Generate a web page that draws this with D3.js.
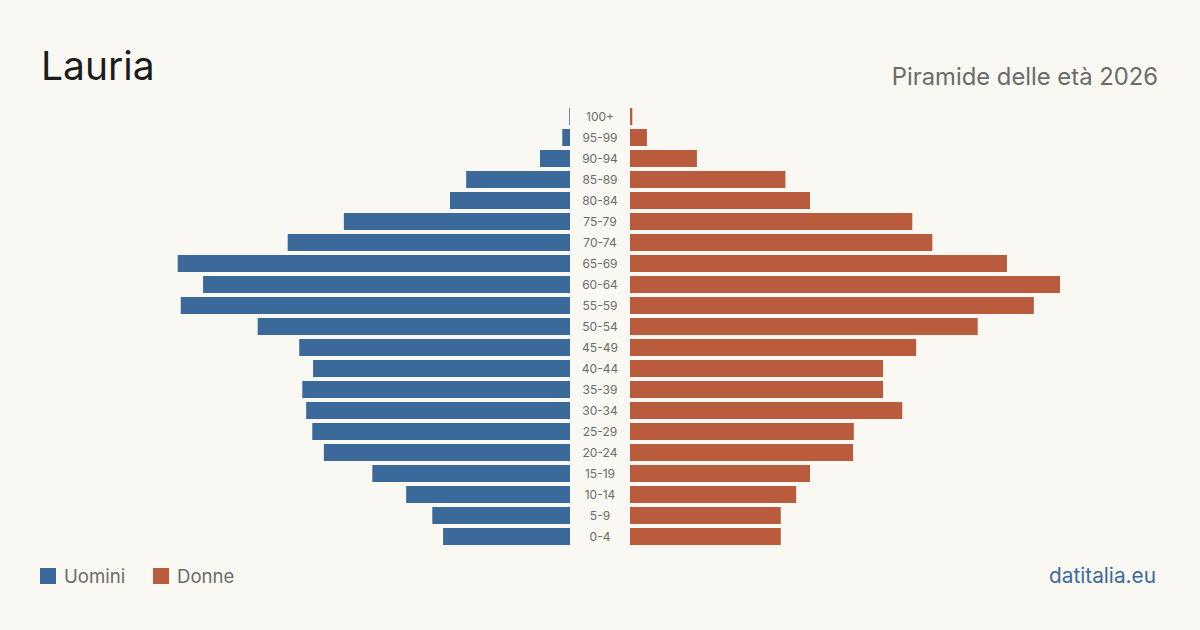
<!DOCTYPE html>
<html>
<head>
<meta charset="utf-8">
<script src="https://cdn.jsdelivr.net/npm/d3@7"></script>
<style>
  body { margin: 0; background: #f9f8f3; }
  svg { font-family: Inter, "Noto Sans", sans-serif; }
</style>
</head>
<body>
<script>
// age classes, top to bottom
var ages = ["100+","95-99","90-94","85-89","80-84","75-79","70-74","65-69","60-64","55-59",
            "50-54","45-49","40-44","35-39","30-34","25-29","20-24","15-19","10-14","5-9","0-4"];
// residents by sex
var uomini = [1, 10, 39, 135, 156, 294, 367, 510, 477, 506, 406, 352, 334, 348, 343, 335, 320, 257, 213, 179, 165];
var donne  = [3, 22, 87, 202, 234, 367, 393, 490, 559, 525, 452, 372, 329, 329, 354, 291, 290, 234, 216, 196, 196];

var W = 1200, H = 630;
var svg = d3.select("body").append("svg")
    .attr("width", W).attr("height", H);

svg.append("rect").attr("width", W).attr("height", H).attr("fill", "#f9f8f3");

svg.append("text")
    .attr("x", 41).attr("y", 80)
    .style("font-size", "39px")
    .attr("fill", "#1c1c1c")
    .text("Lauria");

svg.append("text")
    .attr("x", 1158).attr("y", 85)
    .attr("text-anchor", "end")
    .style("font-size", "23.8px")
    .attr("fill", "#6b6b6b")
    .text("Piramide delle età 2026");

var y = d3.scaleBand().domain(ages).range([106, 547]).paddingInner(4 / 21).paddingOuter(2 / 21);
var maxV = d3.max(uomini.concat(donne));
var xl = d3.scaleLinear().domain([0, maxV]).range([570, 140]);
var xr = d3.scaleLinear().domain([0, maxV]).range([630, 1060]);

var g = svg.append("g");

g.selectAll("rect.m").data(ages).enter().append("rect")
    .attr("class", "m")
    .attr("x", function (d, i) { return xl(uomini[i]); })
    .attr("y", function (d) { return y(d); })
    .attr("width", function (d, i) { return 570 - xl(uomini[i]); })
    .attr("height", y.bandwidth())
    .attr("fill", "#3b6a9a");

g.selectAll("rect.f").data(ages).enter().append("rect")
    .attr("class", "f")
    .attr("x", 630)
    .attr("y", function (d) { return y(d); })
    .attr("width", function (d, i) { return xr(donne[i]) - 630; })
    .attr("height", y.bandwidth())
    .attr("fill", "#b95c3d");

g.selectAll("text.age").data(ages).enter().append("text")
    .attr("class", "age")
    .attr("x", 600)
    .attr("y", function (d) { return y(d) + y.bandwidth() / 2; })
    .attr("dy", "0.35em")
    .attr("text-anchor", "middle")
    .style("font-size", "12px")
    .attr("fill", "#6b6b6b")
    .text(function (d) { return d; });

// legend
var legend = [["Uomini", "#3b6a9a", 40], ["Donne", "#b95c3d", 153]];
var lg = svg.selectAll("g.leg").data(legend).enter().append("g").attr("class", "leg");
lg.append("rect")
    .attr("x", function (d) { return d[2]; }).attr("y", 568)
    .attr("width", 16).attr("height", 16)
    .attr("fill", function (d) { return d[1]; });
lg.append("text")
    .attr("x", function (d) { return d[2] + 24; }).attr("y", 583)
    .style("font-size", "18.6px")
    .attr("fill", "#6b6b6b")
    .text(function (d) { return d[0]; });

svg.append("text")
    .attr("x", 1156).attr("y", 583)
    .attr("text-anchor", "end")
    .style("font-size", "20.8px")
    .attr("fill", "#3b6a9a")
    .text("datitalia.eu");
</script>
</body>
</html>
